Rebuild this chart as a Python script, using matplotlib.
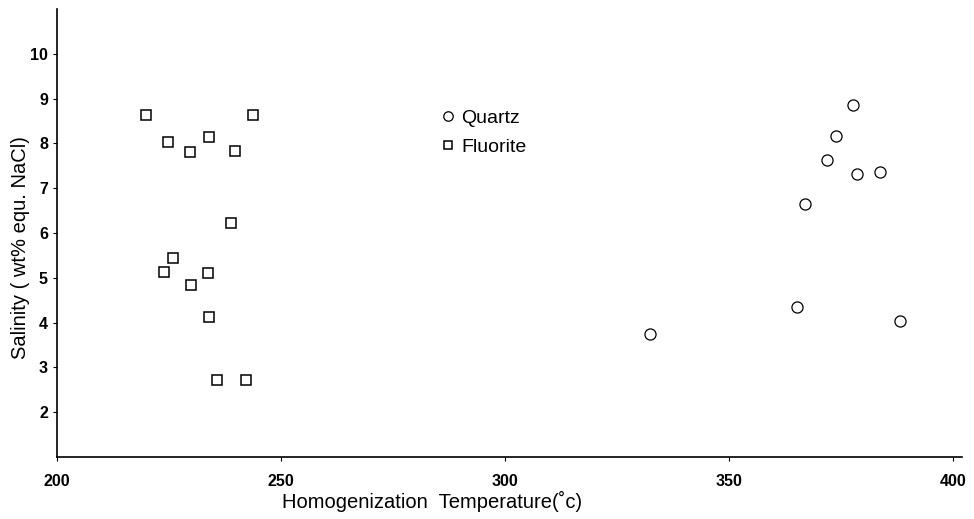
import matplotlib.pyplot as plt

# Fluorite (squares)
fluorite_temp = [219.8, 243.8, 224.7, 234.0, 229.8, 239.8, 238.9, 225.8, 223.8, 233.8, 230.0, 234.0, 235.8, 242.2]
fluorite_sal = [8.64, 8.64, 8.04, 8.15, 7.81, 7.83, 6.23, 5.45, 5.13, 5.11, 4.84, 4.13, 2.72, 2.72]

# Quartz (circles)
quartz_temp = [377.6, 373.8, 372.0, 378.7, 383.8, 366.9, 365.1, 388.2, 332.4]
quartz_sal = [8.86, 8.17, 7.63, 7.32, 7.37, 6.65, 4.35, 4.04, 3.75]

x_ticks = [200, 250, 300, 350, 400]
y_ticks = [2, 3, 4, 5, 6, 7, 8, 9, 10]

plt.rcParams['font.family'] = ['Liberation Sans', 'DejaVu Sans']

fig = plt.figure(figsize=(9.74, 5.19), dpi=100)
ax = fig.add_axes([0.0585, 0.1195, 0.929, 0.863])

ax.plot(quartz_temp, quartz_sal, linestyle='none', marker='o', markersize=8,
        markerfacecolor='white', markeredgecolor='black', markeredgewidth=0.9, label='Quartz')
ax.plot(fluorite_temp, fluorite_sal, linestyle='none', marker='s', markersize=7.5,
        markerfacecolor='white', markeredgecolor='black', markeredgewidth=1.1, label='Fluorite')

ax.set_xlim(200, 402)
ax.set_ylim(1, 11)
ax.set_xticks(x_ticks)
ax.set_yticks(y_ticks)
ax.tick_params(axis='both', direction='out', length=3, width=0.8, labelsize=11.5)
ax.tick_params(axis='x', pad=9)
for lab in ax.get_xticklabels() + ax.get_yticklabels():
    lab.set_fontweight('bold')

for s in ['top', 'right']:
    ax.spines[s].set_visible(False)
for s in ['left', 'bottom']:
    ax.spines[s].set_linewidth(1.2)

ax.set_xlabel('Homogenization  Temperature(\u02dac)', fontsize=14.5)
ax.xaxis.set_label_coords(0.415, -0.076)
ax.set_ylabel('Salinity ( wt% equ. NaCl)', fontsize=14.5)
ax.yaxis.set_label_coords(-0.030, 0.467)

ax.legend(loc='upper left', bbox_to_anchor=(0.440, 0.808), bbox_transform=fig.transFigure,
          frameon=False, fontsize=14, handletextpad=0.2, labelspacing=0.6,
          borderpad=0, handlelength=1.0, markerscale=0.85)

fig.savefig('out.png', dpi=100)
